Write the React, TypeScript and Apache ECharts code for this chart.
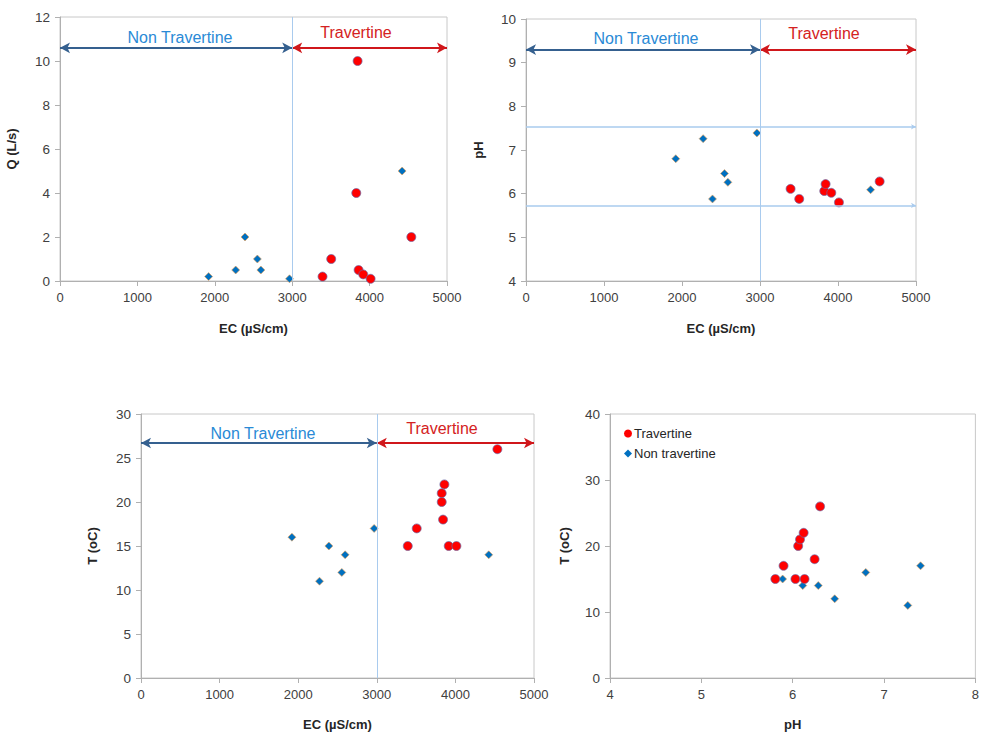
import React, { useEffect, useRef } from "react";
import * as echarts from "echarts";

// ---- Data ----
// Chart 1: EC vs Q
const qNonTrav: number[][] = [
  [1920, 0.2], [2270, 0.5], [2390, 2], [2550, 1], [2595, 0.5], [2965, 0.1], [4420, 5],
];
const qTrav: number[][] = [
  [3392, 0.2], [3504, 1], [3845, 10], [3828, 4], [3858, 0.5], [3918, 0.3], [4013, 0.1], [4539, 2],
];
// Chart 2: EC vs pH
const phNonTrav: number[][] = [
  [1920, 6.8], [2271, 7.26], [2391, 5.88], [2545, 6.46], [2588, 6.26], [2960, 7.39], [4418, 6.09],
];
const phTrav: number[][] = [
  [3392, 6.11], [3503, 5.88], [3824, 6.06], [3841, 6.22], [3914, 6.02], [4012, 5.8], [4534, 6.28],
];
const phLimits: number[] = [7.53, 5.73];
// Chart 3: EC vs T
const tNonTrav: number[][] = [
  [1920, 16], [2271, 11], [2390, 15], [2555, 12], [2597, 14], [2966, 17], [4424, 14],
];
const tTrav: number[][] = [
  [3394, 15], [3508, 17], [3826, 21], [3826, 20], [3843, 18], [3860, 22], [3915, 15], [4013, 15], [4534, 26],
];
// Chart 4: pH vs T
const phtTrav: number[][] = [
  [5.81, 15], [5.9, 17], [6.03, 15], [6.06, 20], [6.08, 21], [6.12, 22], [6.13, 15], [6.24, 18], [6.3, 26],
];
const phtNonTrav: number[][] = [
  [5.89, 15], [6.11, 14], [6.28, 14], [6.46, 12], [6.8, 16], [7.26, 11], [7.4, 17],
];
const ecRange = [0, 5000];
const ecSplit = 3000;

const FONT = "'Liberation Sans', Arial, sans-serif";
const RED = "#ff0000";
const BLUE = "#0070c0";
const ARROW_BLUE = "#35608f";
const ARROW_RED = "#d0171b";
const TEXT_BLUE = "#2a8ad6";
const TEXT_RED = "#d42222";
const VLINE = "#a9cbee";

const redStyle = { color: RED, borderColor: "#6a6aa8", borderWidth: 0.7, opacity: 1 };
const blueStyle = { color: BLUE, borderColor: "#f0a050", borderWidth: 0.6, opacity: 1 };

function xAxis(gridIndex: number, min: number, max: number, interval: number, name: string, nameGap: number) {
  return {
    type: "value", gridIndex, min, max, interval, name, nameLocation: "middle", nameGap,
    nameTextStyle: { fontFamily: FONT, fontSize: 13, fontWeight: "bold", color: "#262626" },
    axisLine: { show: true, onZero: false, lineStyle: { color: "#b0b0b0", width: 1 } },
    axisTick: { show: true, length: 5, lineStyle: { color: "#b0b0b0" } },
    axisLabel: { fontFamily: FONT, fontSize: 13, color: "#404040", margin: 10, formatter: (v: number) => String(v) },
    splitLine: { show: false },
  };
}
function yAxis(gridIndex: number, min: number, max: number, interval: number, name: string, nameGap: number) {
  return {
    type: "value", gridIndex, min, max, interval, name, nameLocation: "middle", nameGap, nameRotate: 90,
    nameTextStyle: { fontFamily: FONT, fontSize: 13, fontWeight: "bold", color: "#262626" },
    axisLine: { show: true, onZero: false, lineStyle: { color: "#b0b0b0", width: 1 } },
    axisTick: { show: true, length: 5, lineStyle: { color: "#b0b0b0" } },
    axisLabel: { fontFamily: FONT, fontSize: 13.5, color: "#404040", margin: 10, formatter: (v: number) => String(v) },
    splitLine: { show: false },
  };
}

function arrowLines(yVal: number, yMin: number, yMax: number) {
  return [
    {
      type: "line", data: [], silent: true,
      markLine: {
        silent: true, symbol: ["arrow", "arrow"], symbolSize: [8, 10], label: { show: false },
        data: [
          [{ coord: [ecRange[0], yVal], lineStyle: { color: ARROW_BLUE, width: 2, type: "solid" } }, { coord: [ecSplit, yVal] }],
          [{ coord: [ecSplit, yVal], lineStyle: { color: ARROW_RED, width: 2, type: "solid" } }, { coord: [ecRange[1], yVal] }],
        ],
      },
    },
    {
      type: "line", data: [], silent: true,
      markLine: {
        silent: true, symbol: ["none", "none"], label: { show: false },
        lineStyle: { color: VLINE, width: 1, type: "solid" },
        data: [[{ coord: [ecSplit, yMin] }, { coord: [ecSplit, yMax] }]],
      },
    },
  ];
}

function withAxes(series: any[], idx: number) {
  return series.map((s) => ({ ...s, xAxisIndex: idx, yAxisIndex: idx }));
}

export default function App() {
  const ref = useRef<HTMLDivElement>(null);
  useEffect(() => {
    document.body.style.margin = "0";
    if (!ref.current) return;
    const chart = echarts.init(ref.current, undefined, { renderer: "svg" });
    const grids = [
      { left: 60, top: 17, width: 387, height: 264 },
      { left: 526, top: 19, width: 390, height: 262 },
      { left: 141, top: 414, width: 393, height: 264 },
      { left: 610, top: 414, width: 369, height: 264 },
    ].map((g) => ({ ...g, show: true, borderColor: "#c8c8c8", borderWidth: 1, backgroundColor: "transparent" }));

    const scatter = (name: string, data: number[][], trav: boolean) => ({
      type: "scatter", name, data,
      symbol: trav ? "circle" : "diamond",
      symbolSize: trav ? 9 : 8,
      itemStyle: trav ? redStyle : blueStyle,
      z: trav ? 4 : 3,
    });

    const series: any[] = [
      ...withAxes([...arrowLines(10.6, 0, 12), scatter("Non travertine Q", qNonTrav, false), scatter("Travertine Q", qTrav, true)], 0),
      ...withAxes([
        ...arrowLines(9.3, 4, 10),
        {
          type: "line", data: [], silent: true,
          markLine: {
            silent: true, symbol: ["none", "arrow"], symbolSize: [4, 5], label: { show: false },
            lineStyle: { color: VLINE, width: 1.5, type: "solid" },
            data: phLimits.map((v) => [{ coord: [ecRange[0], v] }, { coord: [ecRange[1], v] }]),
          },
        },
        scatter("Non travertine pH", phNonTrav, false), scatter("Travertine pH", phTrav, true),
      ], 1),
      ...withAxes([...arrowLines(26.7, 0, 30), scatter("Non travertine T", tNonTrav, false), scatter("Travertine T", tTrav, true)], 2),
      ...withAxes([scatter("Travertine", phtTrav, true), scatter("Non travertine", phtNonTrav, false)], 3),
    ];

    const txt = (text: string, x: number, y: number, color: string) => ({
      type: "text", x, y,
      style: { text, fill: color, font: `16px ${FONT}`, textAlign: "center", textVerticalAlign: "middle" },
    });

    chart.setOption({
      animation: false,
      backgroundColor: "#ffffff",
      grid: grids,
      xAxis: [
        xAxis(0, 0, 5000, 1000, "EC (µS/cm)", 41),
        xAxis(1, 0, 5000, 1000, "EC (µS/cm)", 41),
        xAxis(2, 0, 5000, 1000, "EC (µS/cm)", 40),
        xAxis(3, 4, 8, 1, "pH", 40),
      ],
      yAxis: [
        yAxis(0, 0, 12, 2, "Q (L/s)", 42),
        yAxis(1, 4, 10, 1, "pH", 41),
        yAxis(2, 0, 30, 5, "T (oC)", 42),
        yAxis(3, 0, 40, 10, "T (oC)", 39),
      ],
      legend: {
        show: true, orient: "vertical", left: 619, top: 422, itemGap: 7,
        itemWidth: 8, itemHeight: 8,
        textStyle: { fontFamily: FONT, fontSize: 13, color: "#262626", padding: [0, 0, 0, -3] },
        data: [
          { name: "Travertine", icon: "circle", itemStyle: { borderWidth: 0 } },
          { name: "Non travertine", icon: "diamond", itemStyle: { borderWidth: 0 } },
        ],
        selectedMode: false,
      },
      graphic: [
        txt("Non Travertine", 180, 37, TEXT_BLUE),
        txt("Travertine", 356, 32, TEXT_RED),
        txt("Non Travertine", 646, 38, TEXT_BLUE),
        txt("Travertine", 824, 33, TEXT_RED),
        txt("Non Travertine", 263, 433, TEXT_BLUE),
        txt("Travertine", 442, 428, TEXT_RED),
      ],
      series,
    });
    return () => chart.dispose();
  }, []);
  return <div ref={ref} style={{ width: 982, height: 733 }} />;
}
